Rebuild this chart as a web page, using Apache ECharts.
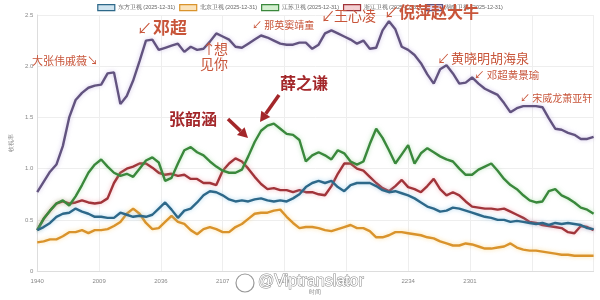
<!DOCTYPE html>
<html><head><meta charset="utf-8">
<script src="https://cdn.jsdelivr.net/npm/echarts@6/dist/echarts.min.js"></script>
<style>html,body{margin:0;padding:0;background:#fff}#c{width:600px;height:300px}</style>
</head><body><div id="c"></div>
<script>
// x tick labels (every 29 points)
const tickLabels = ['1940','2009','2036','2107','2136','2205','2234','2301'];
const step = 3; // each value below is one reading every 3 points
const seriesNames = ['东方卫视 (2025-12-31)','北京卫视 (2025-12-31)','江苏卫视 (2025-12-31)','浙江卫视 (2025-12-31)','湖南卫视 (2025-12-31)'];

const dongfang = [0.40,0.43,0.47,0.53,0.56,0.57,0.61,0.58,0.56,0.53,0.53,0.52,0.52,0.57,0.55,0.53,0.54,0.53,0.55,0.61,0.67,0.60,0.52,0.59,0.61,0.67,0.74,0.78,0.77,0.74,0.70,0.68,0.69,0.68,0.70,0.71,0.69,0.68,0.69,0.68,0.71,0.75,0.82,0.86,0.88,0.86,0.88,0.82,0.78,0.84,0.86,0.86,0.86,0.83,0.79,0.77,0.78,0.76,0.74,0.71,0.67,0.63,0.61,0.58,0.59,0.62,0.61,0.59,0.57,0.55,0.53,0.52,0.50,0.50,0.48,0.49,0.48,0.47,0.46,0.47,0.45,0.47,0.46,0.47,0.46,0.45,0.42,0.41];
const beijing = [0.28,0.29,0.31,0.31,0.34,0.38,0.38,0.40,0.37,0.40,0.40,0.41,0.44,0.48,0.56,0.61,0.56,0.47,0.41,0.42,0.48,0.54,0.48,0.46,0.40,0.36,0.41,0.43,0.41,0.38,0.38,0.43,0.46,0.51,0.56,0.57,0.57,0.59,0.60,0.53,0.47,0.42,0.43,0.43,0.42,0.40,0.39,0.41,0.43,0.45,0.42,0.42,0.39,0.33,0.33,0.35,0.38,0.38,0.37,0.36,0.35,0.33,0.32,0.29,0.27,0.25,0.25,0.27,0.26,0.24,0.22,0.22,0.23,0.24,0.27,0.23,0.21,0.20,0.20,0.19,0.18,0.17,0.16,0.16,0.15,0.15,0.15,0.15];
const jiangsu = [0.40,0.51,0.59,0.66,0.69,0.64,0.73,0.84,0.96,1.04,1.09,1.02,0.96,0.93,0.95,0.92,1.00,1.08,1.11,1.06,0.88,0.91,1.05,1.18,1.21,1.16,1.13,1.07,1.02,0.98,0.96,0.96,0.99,1.12,1.26,1.37,1.42,1.44,1.39,1.34,1.33,1.28,1.07,1.13,1.16,1.13,1.09,1.18,1.15,1.07,1.04,1.07,1.24,1.39,1.30,1.18,1.05,1.14,1.23,1.05,1.15,1.20,1.16,1.12,1.09,1.07,1.00,0.94,0.94,0.99,1.02,1.05,0.98,0.90,0.84,0.80,0.74,0.69,0.67,0.68,0.78,0.80,0.74,0.71,0.67,0.62,0.60,0.56];
const zhejiang = [0.40,0.51,0.59,0.66,0.68,0.66,0.67,0.69,0.67,0.66,0.67,0.71,0.86,0.96,1.00,1.02,1.05,1.05,1.01,0.96,0.94,0.95,0.93,0.94,0.90,0.90,0.86,0.86,0.84,0.98,1.05,1.10,1.07,1.00,0.92,0.85,0.80,0.81,0.79,0.79,0.77,0.79,0.77,0.77,0.75,0.74,0.83,0.95,1.05,1.05,1.00,0.98,0.92,0.86,0.81,0.78,0.83,0.89,0.82,0.80,0.77,0.83,0.90,0.80,0.74,0.77,0.74,0.68,0.63,0.62,0.61,0.61,0.60,0.61,0.58,0.55,0.52,0.48,0.47,0.45,0.44,0.43,0.42,0.38,0.37,0.44,0.43,0.40];
const hunan = [0.77,0.87,0.97,1.04,1.22,1.50,1.67,1.74,1.79,1.81,1.82,1.93,1.94,1.63,1.71,1.86,2.05,2.25,2.26,2.16,2.18,2.20,2.22,2.14,2.19,2.16,2.17,2.24,2.32,2.29,2.26,2.19,2.18,2.22,2.26,2.30,2.28,2.25,2.22,2.21,2.21,2.23,2.23,2.17,2.21,2.32,2.35,2.32,2.29,2.26,2.22,2.25,2.17,2.18,2.35,2.44,2.36,2.19,2.16,2.11,2.03,1.92,1.83,1.97,2.01,1.93,1.83,1.84,1.89,1.83,1.78,1.75,1.72,1.64,1.55,1.59,1.61,1.61,1.61,1.60,1.49,1.39,1.38,1.35,1.33,1.29,1.29,1.31];

const values = [dongfang, beijing, jiangsu, zhejiang, hunan];
const colors = ['#2d6889','#d9932c','#3a883c','#a1343a','#62537f'];
const halos = ['rgba(120,190,230,0.6)','rgba(250,210,120,0.7)','rgba(140,210,140,0.6)','rgba(235,140,150,0.6)','rgba(180,160,220,0.6)'];
const fills = ['#cfe4f0','#fbe3bb','#d3efcf','#f3d0d3','#e0d8ee'];

const chart = echarts.init(document.getElementById('c'));
const series = [];
for (let k = values.length - 1; k >= 0; k--) {
  series.push({
    name: seriesNames[k], type: 'line', showSymbol: false, symbol: 'none',
    data: values[k].map((v, i) => [i * step, v]),
    lineStyle: { color: colors[k], width: 2.4, shadowColor: halos[k], shadowBlur: 4 },
    itemStyle: { color: fills[k], borderColor: colors[k], borderWidth: 1.2 },
    emphasis: { disabled: true }, animation: false
  });
}
const annoColor = '#c8553a';
const darkRed = '#a3272a';
const cjk = '"Noto Sans CJK SC", sans-serif';
function txt(text, x, y, size, color, weight, align) {
  return { type: 'text', z: 100, style: { text: text, x: x, y: y, fill: color, font: (weight || 'normal') + ' ' + size + 'px ' + cjk, align: align || 'left', verticalAlign: 'middle' } };
}
function arrow(x1, y1, x2, y2) {
  const dx = x2 - x1, dy = y2 - y1, L = Math.hypot(dx, dy), ux = dx / L, uy = dy / L;
  const bx = x2 - 10 * ux, by = y2 - 10 * uy, px = -uy * 5.5, py = ux * 5.5;
  return [
    { type: 'line', z: 100, shape: { x1: x1, y1: y1, x2: bx, y2: by }, style: { stroke: darkRed, lineWidth: 3.5 } },
    { type: 'polygon', z: 100, shape: { points: [[x2, y2], [bx + px, by + py], [bx - px, by - py]] }, style: { fill: darkRed } }
  ];
}
const graphic = [
  txt('大张伟戚薇↘', 32, 61, 11, annoColor),
  txt('↙', 137, 28, 15, annoColor),
  txt('邓超', 153, 28, 17, annoColor, 'bold'),
  txt('↑', 202, 49, 14, annoColor),
  txt('想', 214, 49, 14, annoColor),
  txt('见你', 200, 64, 14, annoColor),
  txt('↙ 那英窦靖童', 252, 25, 10, annoColor),
  txt('↙', 321, 16, 14, annoColor),
  txt('王心凌', 334, 16, 14, annoColor),
  txt('↙', 384, 12, 15, annoColor),
  txt('倪萍赵大牛', 399, 12, 16, annoColor, 'bold'),
  txt('↙', 437, 58, 13, annoColor),
  txt('黄晓明胡海泉', 451, 58, 13, annoColor),
  txt('↙ 邓超黄景瑜', 474, 75, 10.5, annoColor),
  txt('↙ 宋威龙萧亚轩', 520, 98, 10, annoColor),
  txt('薛之谦', 280, 83, 16, darkRed, 'bold'),
  txt('张韶涵', 169, 119, 16, darkRed, 'bold'),
  ...arrow(228, 119, 248, 138),
  ...arrow(279, 95, 260, 122),
  { type: 'circle', z: 110, shape: { cx: 245, cy: 283, r: 9 }, style: { fill: '#fff', stroke: '#999', lineWidth: 1.2 } },
  { type: 'text', z: 110, style: { text: '@Viptranslator', x: 258, y: 282, font: '16px "Liberation Sans", Arial, sans-serif', fill: '#fff', stroke: '#8a8a8a', lineWidth: 1, verticalAlign: 'middle' } }
];

chart.setOption({
  animation: false,
  backgroundColor: '#fff',
  legend: {
    top: 1, padding: [3, 5], left: 'center', icon: 'rect', itemWidth: 17, itemHeight: 6, itemGap: 4,
    textStyle: { fontSize: 5.5, color: '#666', padding: [0, 0, 0, -2] },
    data: seriesNames.map((n, k) => ({ name: n, itemStyle: { color: fills[k], borderColor: colors[k], borderWidth: 1.2 } })),
    selectedMode: false
  },
  grid: { left: 22, right: 6.4, top: 15, bottom: 22.5 },
  xAxis: {
    type: 'value', min: 0, max: 261, interval: 29,
    name: '时间', nameLocation: 'middle', nameGap: 17, nameTextStyle: { fontSize: 6, color: '#888' },
    axisLine: { show: true, lineStyle: { color: '#ddd' } }, axisTick: { show: false },
    splitLine: { show: true, lineStyle: { color: '#eee' } },
    axisLabel: { fontSize: 6, color: '#888', margin: 7, showMaxLabel: false, formatter: v => tickLabels[v / 29] || '' }
  },
  yAxis: {
    type: 'value', min: 0, max: 2.5, interval: 0.5,
    name: '收视率', nameLocation: 'middle', nameGap: 13, nameRotate: 90, nameTextStyle: { fontSize: 6, color: '#888' },
    axisLine: { show: true, lineStyle: { color: '#ddd' } }, axisTick: { show: false },
    splitLine: { show: true, lineStyle: { color: '#eee' } },
    axisLabel: { fontSize: 6, color: '#888', margin: 4, formatter: v => v === 0 ? '0' : v.toFixed(1) }
  },
  series: series,
  graphic: graphic
});
</script></body></html>
